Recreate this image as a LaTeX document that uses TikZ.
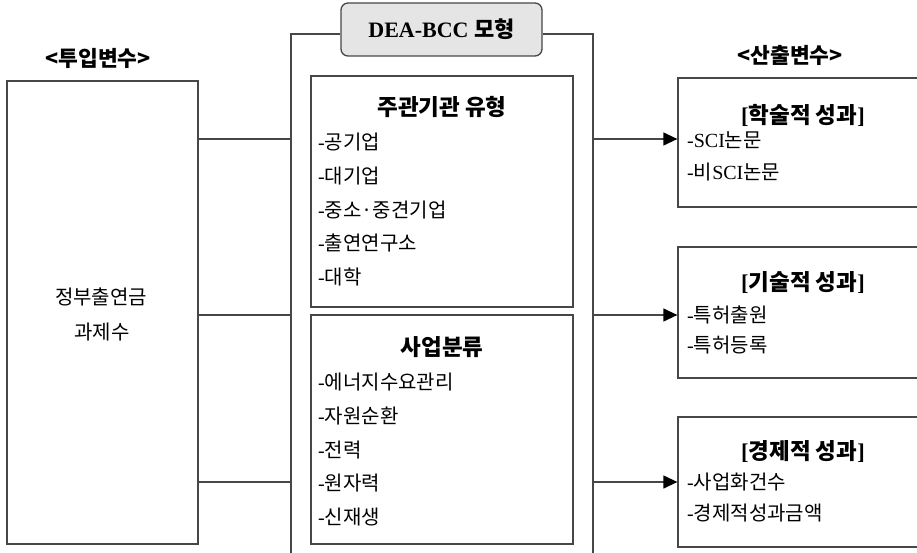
\documentclass[tikz,border=0pt]{standalone}
\usepackage{fontspec}
\setmainfont{Liberation Serif}
\newfontfamily\kr{Noto Sans CJK KR}
\usetikzlibrary{arrows.meta}
\newcommand{\K}[1]{{\kr #1}}
\begin{document}
\begin{tikzpicture}[x=1pt,y=-1pt,
  ln/.style={draw=black!72, line width=1.3pt},
  box/.style={ln, inner sep=0pt},
  txt/.style={inner sep=0pt, font=\fontsize{20}{22}\selectfont, anchor=west},
  ttl/.style={inner sep=0pt, font=\fontsize{22.5}{24}\selectfont\bfseries},
  hdr/.style={inner sep=0pt, font=\kr\fontsize{21.5}{23}\selectfont\bfseries},
  arr/.style={ln, -{Triangle[length=14pt,width=13pt,color=black]}}]
\useasboundingbox (0,0) rectangle (917,553);
\clip (0,0) rectangle (917,553);
\fill[white] (0,0) rectangle (917,553);

% headers
\node[hdr] (hin) at (98,58) {<투입변수>};
\node[hdr] (hout) at (790,55) {<산출변수>};

% left input box
\node[box, minimum width=191pt, minimum height=463pt] (inp) at (102.5,312.5) {};
\node[inner sep=0pt, font=\kr\fontsize{20}{22}\selectfont] (in1) at (101,297) {정부출연금};
\node[inner sep=0pt, font=\kr\fontsize{20}{22}\selectfont] (in2) at (102,332) {과제수};

% DEA model frame
\node[box, fill=black!10, rounded corners=7pt, minimum width=201pt, minimum height=53pt,
      font=\fontsize{22}{24}\selectfont\bfseries] (dea) at (441.5,29.5) {DEA-BCC \K{모형}};
\coordinate (fl0) at (291,34);
\coordinate (fr0) at (593,34);
\draw[ln] (291,560) -- (fl0) -- (dea.west |- fl0);
\draw[ln] (dea.east |- fr0) -- (fr0) -- (593,560);

% inner box 1
\node[box, minimum width=262pt, minimum height=231pt] (b1) at (442,191.5) {};
\node[ttl] (t1) at (442,107) {\K{주관기관 유형}};
\node[txt] (a1) at (318,142) {-\K{공기업}};
\node[txt] (a2) at (318,176) {-\K{대기업}};
\node[txt] (a3) at (318,210) {-\K{중소·중견기업}};
\node[txt] (a4) at (318,243) {-\K{출연연구소}};
\node[txt] (a5) at (318,277) {-\K{대학}};

% inner box 2
\node[box, minimum width=262pt, minimum height=229pt] (b2) at (442,429.5) {};
\node[ttl] (t2) at (442,347) {\K{사업분류}};
\node[txt] (c1) at (318,382) {-\K{에너지수요관리}};
\node[txt] (c2) at (318,416) {-\K{자원순환}};
\node[txt] (c3) at (318,450) {-\K{전력}};
\node[txt] (c4) at (318,483) {-\K{원자력}};
\node[txt] (c5) at (318,517) {-\K{신재생}};

% output boxes
\node[box, minimum width=252pt, minimum height=129pt] (o1) at (804,142.5) {};
\node[ttl] (ot1) at (803,115) {[\K{학술적 성과}]};
\node[txt] (o1a) at (687,140) {-SCI\K{논문}};
\node[txt] (o1b) at (687,172) {-\K{비}SCI\K{논문}};

\node[box, minimum width=252pt, minimum height=131pt] (o2) at (804,312.5) {};
\node[ttl] (ot2) at (803,283) {[\K{기술적 성과}]};
\node[txt] (o2a) at (687,315) {-\K{특허출원}};
\node[txt] (o2b) at (687,345) {-\K{특허등록}};

\node[box, minimum width=252pt, minimum height=130pt] (o3) at (804,482) {};
\node[ttl] (ot3) at (803,452) {[\K{경제적 성과}]};
\node[txt] (o3a) at (687,482) {-\K{사업화건수}};
\node[txt] (o3b) at (687,513) {-\K{경제적성과금액}};

% connectors
\coordinate (fl1) at (291,139);
\coordinate (fl2) at (291,315);
\coordinate (fl3) at (291,482);
\coordinate (fr1) at (593,139);
\coordinate (fr2) at (593,315);
\coordinate (fr3) at (593,482);
\draw[ln] (inp.east |- fl1) -- (fl1);
\draw[ln] (inp.east |- fl2) -- (fl2);
\draw[ln] (inp.east |- fl3) -- (fl3);
\draw[arr] (fr1) -- (o1.west |- fr1);
\draw[arr] (fr2) -- (o2.west |- fr2);
\draw[arr] (fr3) -- (o3.west |- fr3);
\end{tikzpicture}
\end{document}
